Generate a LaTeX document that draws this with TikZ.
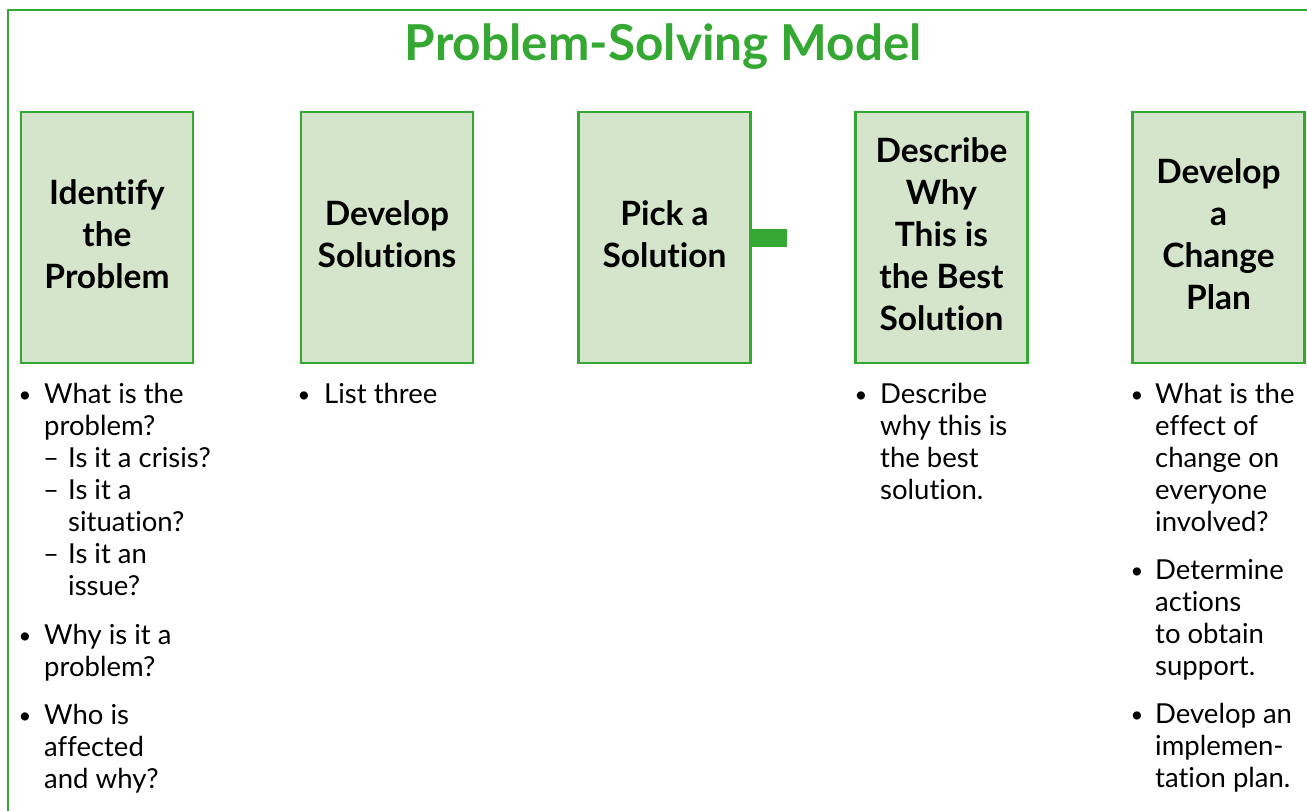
\documentclass[tikz,border=0pt]{standalone}
\usepackage{fontspec}
\setmainfont{Lato}[Ligatures=NoCommon]
\definecolor{pgreen}{RGB}{52,168,50}
\definecolor{pfill}{RGB}{213,229,203}
\tikzset{
  stepbox/.style={draw=pgreen, line width=2.5pt, fill=pfill, minimum width=172pt, minimum height=251pt, inner sep=0pt},
  steptext/.style={inner sep=0pt, align=center, font=\bfseries\fontsize{33.5}{42}\selectfont, text=black},
  ln/.style={anchor=base west, inner sep=0pt, font=\fontsize{27.5}{32}\selectfont, text=black},
  bul/.style={anchor=base, inner sep=0pt, font=\fontsize{22}{32}\selectfont, text=black},
}
\begin{document}
\begin{tikzpicture}[x=1pt,y=-1pt]
\useasboundingbox (0,0) rectangle (1307,811);
\fill[white] (0,0) rectangle (1307,811);
\draw[pgreen, line width=2.5pt] (8,811) -- (8,10) -- (1307,10);
\node[anchor=base, inner sep=0pt, text=pgreen, font=\bfseries\fontsize{49.5}{54}\selectfont] (title) at (663.5,60) {Problem-Solving Model};

\node[stepbox] (b1) at (107,237.5) {};
\node[stepbox] (b2) at (387,237.5) {};
\node[stepbox] (b3) at (664.5,237.5) {};
\node[stepbox] (b4) at (941.5,237.5) {};
\node[stepbox] (b5) at (1218.5,237.5) {};
\node[steptext] (t1) at (107,234) {Identify\\the\\Problem};
\node[steptext] (t2) at (387,234) {Develop\\Solutions};
\node[steptext] (t3) at (664.5,234) {Pick a\\Solution};
\node[steptext] (t4) at (941.5,234) {Describe\\Why\\This is\\the Best\\Solution};
\node[steptext] (t5) at (1218.5,234) {Develop\\a\\Change\\Plan};
\coordinate (stub) at (787,237.5);
\draw[pgreen, line width=18pt] (b3.east) -- (stub);

% column 1
\node[bul] (c1b1) at (25,402) {•};
\node[ln] (c1l1) at (44,403) {What is the};
\node[ln] (c1l2) at (44,435) {problem?};
\node[ln] (c1d1) at (43,467) {–};
\node[ln] (c1l3) at (68,467) {Is it a crisis?};
\node[ln] (c1d2) at (43,499) {–};
\node[ln] (c1l4) at (68,499) {Is it a};
\node[ln] (c1l5) at (68,531) {situation?};
\node[ln] (c1d3) at (43,563) {–};
\node[ln] (c1l6) at (68,563) {Is it an};
\node[ln] (c1l7) at (68,595) {issue?};
\node[bul] (c1b2) at (25,643) {•};
\node[ln] (c1l8) at (44,644) {Why is it a};
\node[ln] (c1l9) at (44,676) {problem?};
\node[bul] (c1b3) at (25,723) {•};
\node[ln] (c1l10) at (44,724) {Who is};
\node[ln] (c1l11) at (44,756) {affected};
\node[ln] (c1l12) at (44,788) {and why?};

% column 2
\node[bul] (c2b1) at (304,402) {•};
\node[ln] (c2l1) at (324,403) {List three};

% column 4
\node[bul] (c4b1) at (861,402) {•};
\node[ln] (c4l1) at (880,403) {Describe};
\node[ln] (c4l2) at (880,435) {why this is};
\node[ln] (c4l3) at (880,467) {the best};
\node[ln] (c4l4) at (880,499) {solution.};

% column 5
\node[bul] (c5b1) at (1137,402) {•};
\node[ln] (c5l1) at (1155,403) {What is the};
\node[ln] (c5l2) at (1155,435) {effect of};
\node[ln] (c5l3) at (1155,467) {change on};
\node[ln] (c5l4) at (1155,499) {everyone};
\node[ln] (c5l5) at (1155,531) {involved?};
\node[bul] (c5b2) at (1137,578) {•};
\node[ln] (c5l6) at (1155,579) {Determine};
\node[ln] (c5l7) at (1155,611) {actions};
\node[ln] (c5l8) at (1155,643) {to obtain};
\node[ln] (c5l9) at (1155,675) {support.};
\node[bul] (c5b3) at (1137,722) {•};
\node[ln] (c5l10) at (1155,723) {Develop an};
\node[ln] (c5l11) at (1155,755) {implemen-};
\node[ln] (c5l12) at (1155,787) {tation plan.};
\end{tikzpicture}
\end{document}
